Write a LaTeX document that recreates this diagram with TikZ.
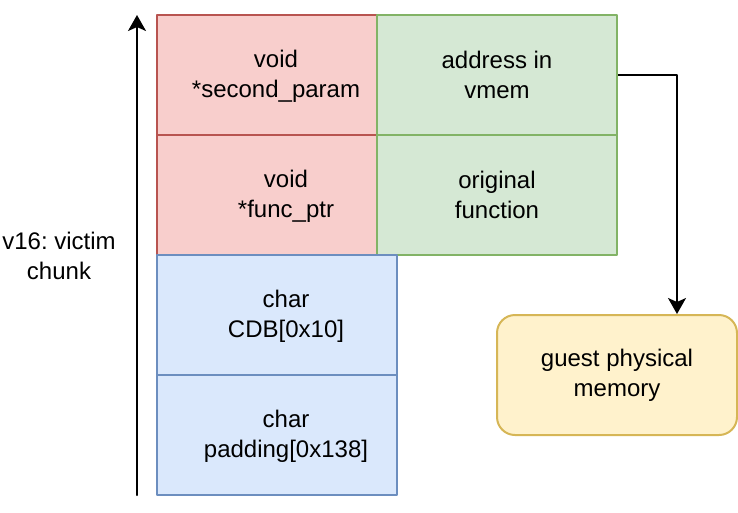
\documentclass[tikz,border=0pt]{standalone}
\usepackage{fontspec}
\setmainfont{Liberation Sans}
\usetikzlibrary{arrows.meta}
\frenchspacing

\definecolor{redfill}{HTML}{F8CECC}
\definecolor{redline}{HTML}{B85450}
\definecolor{greenfill}{HTML}{D5E8D4}
\definecolor{greenline}{HTML}{82B366}
\definecolor{bluefill}{HTML}{DAE8FC}
\definecolor{blueline}{HTML}{6C8EBF}
\definecolor{yellowfill}{HTML}{FFF2CC}
\definecolor{yellowline}{HTML}{D6B656}

\tikzset{
	cell/.style={rectangle, line width=1.5pt, minimum width=165pt, minimum height=90pt, inner sep=0pt},
	redcell/.style={cell, draw=redline, fill=redfill},
	greencell/.style={cell, draw=greenline, fill=greenfill, minimum width=180pt, align=center},
	bluecell/.style={cell, draw=blueline, fill=bluefill, minimum width=180pt},
	txt/.style={align=center, inner sep=0pt},
}

\begin{document}
\begin{tikzpicture}[x=0.75pt, y=-0.75pt, >={Stealth[length=12pt, width=13.5pt, inset=3pt]},
	line cap=round, line join=round,
	font=\fontsize{18pt}{22.5pt}\selectfont]
		
		\useasboundingbox (0,0) rectangle (738,512);
		
		%========================
		% Left: growth arrow + chunk label
		%========================
		\coordinate (base) at (137,495);
		\coordinate (top) at (137,15);
		\draw[->, line width=1.5pt] (base) -- (top);
		\node[txt] (victim) at (59,256) {v16: victim\\chunk};
		
		%========================
		% Chunk layout
		%========================
		% overwritten fields (red)
		\node[redcell, label={[txt, xshift=6.75pt, yshift=-1pt]center:void\\*second\_param}] (param) at (267,75) {};
		\node[redcell, label={[txt, xshift=14.25pt, yshift=-1pt]center:void\\*func\_ptr}] (func) at (267,195) {};
		
		% values written into them (green)
		\node[greencell] (addr) at (497,75) {address in\\vmem};
		\node[greencell] (orig) at (497,195) {original\\function};
		
		% remaining buffer (blue)
		\node[bluecell, label={[txt, xshift=6.75pt, yshift=-1pt]center:char\\CDB[0x10]}] (cdb) at (277,315) {};
		\node[bluecell, label={[txt, xshift=6.75pt, yshift=-1pt]center:char\\padding[0x138]}] (pad) at (277,435) {};
		
		%========================
		% Right: target memory
		%========================
		\node[rectangle, rounded corners=13.5pt, draw=yellowline, fill=yellowfill, line width=1.5pt,
		minimum width=180pt, minimum height=90pt, align=center] (gpm) at (617,375) {guest physical\\memory};
		
		% pointer into guest memory
		\draw[->, line width=1.5pt, line cap=butt] (addr.east) -| ([xshift=45pt]gpm.north);
		
	\end{tikzpicture}
\end{document}
